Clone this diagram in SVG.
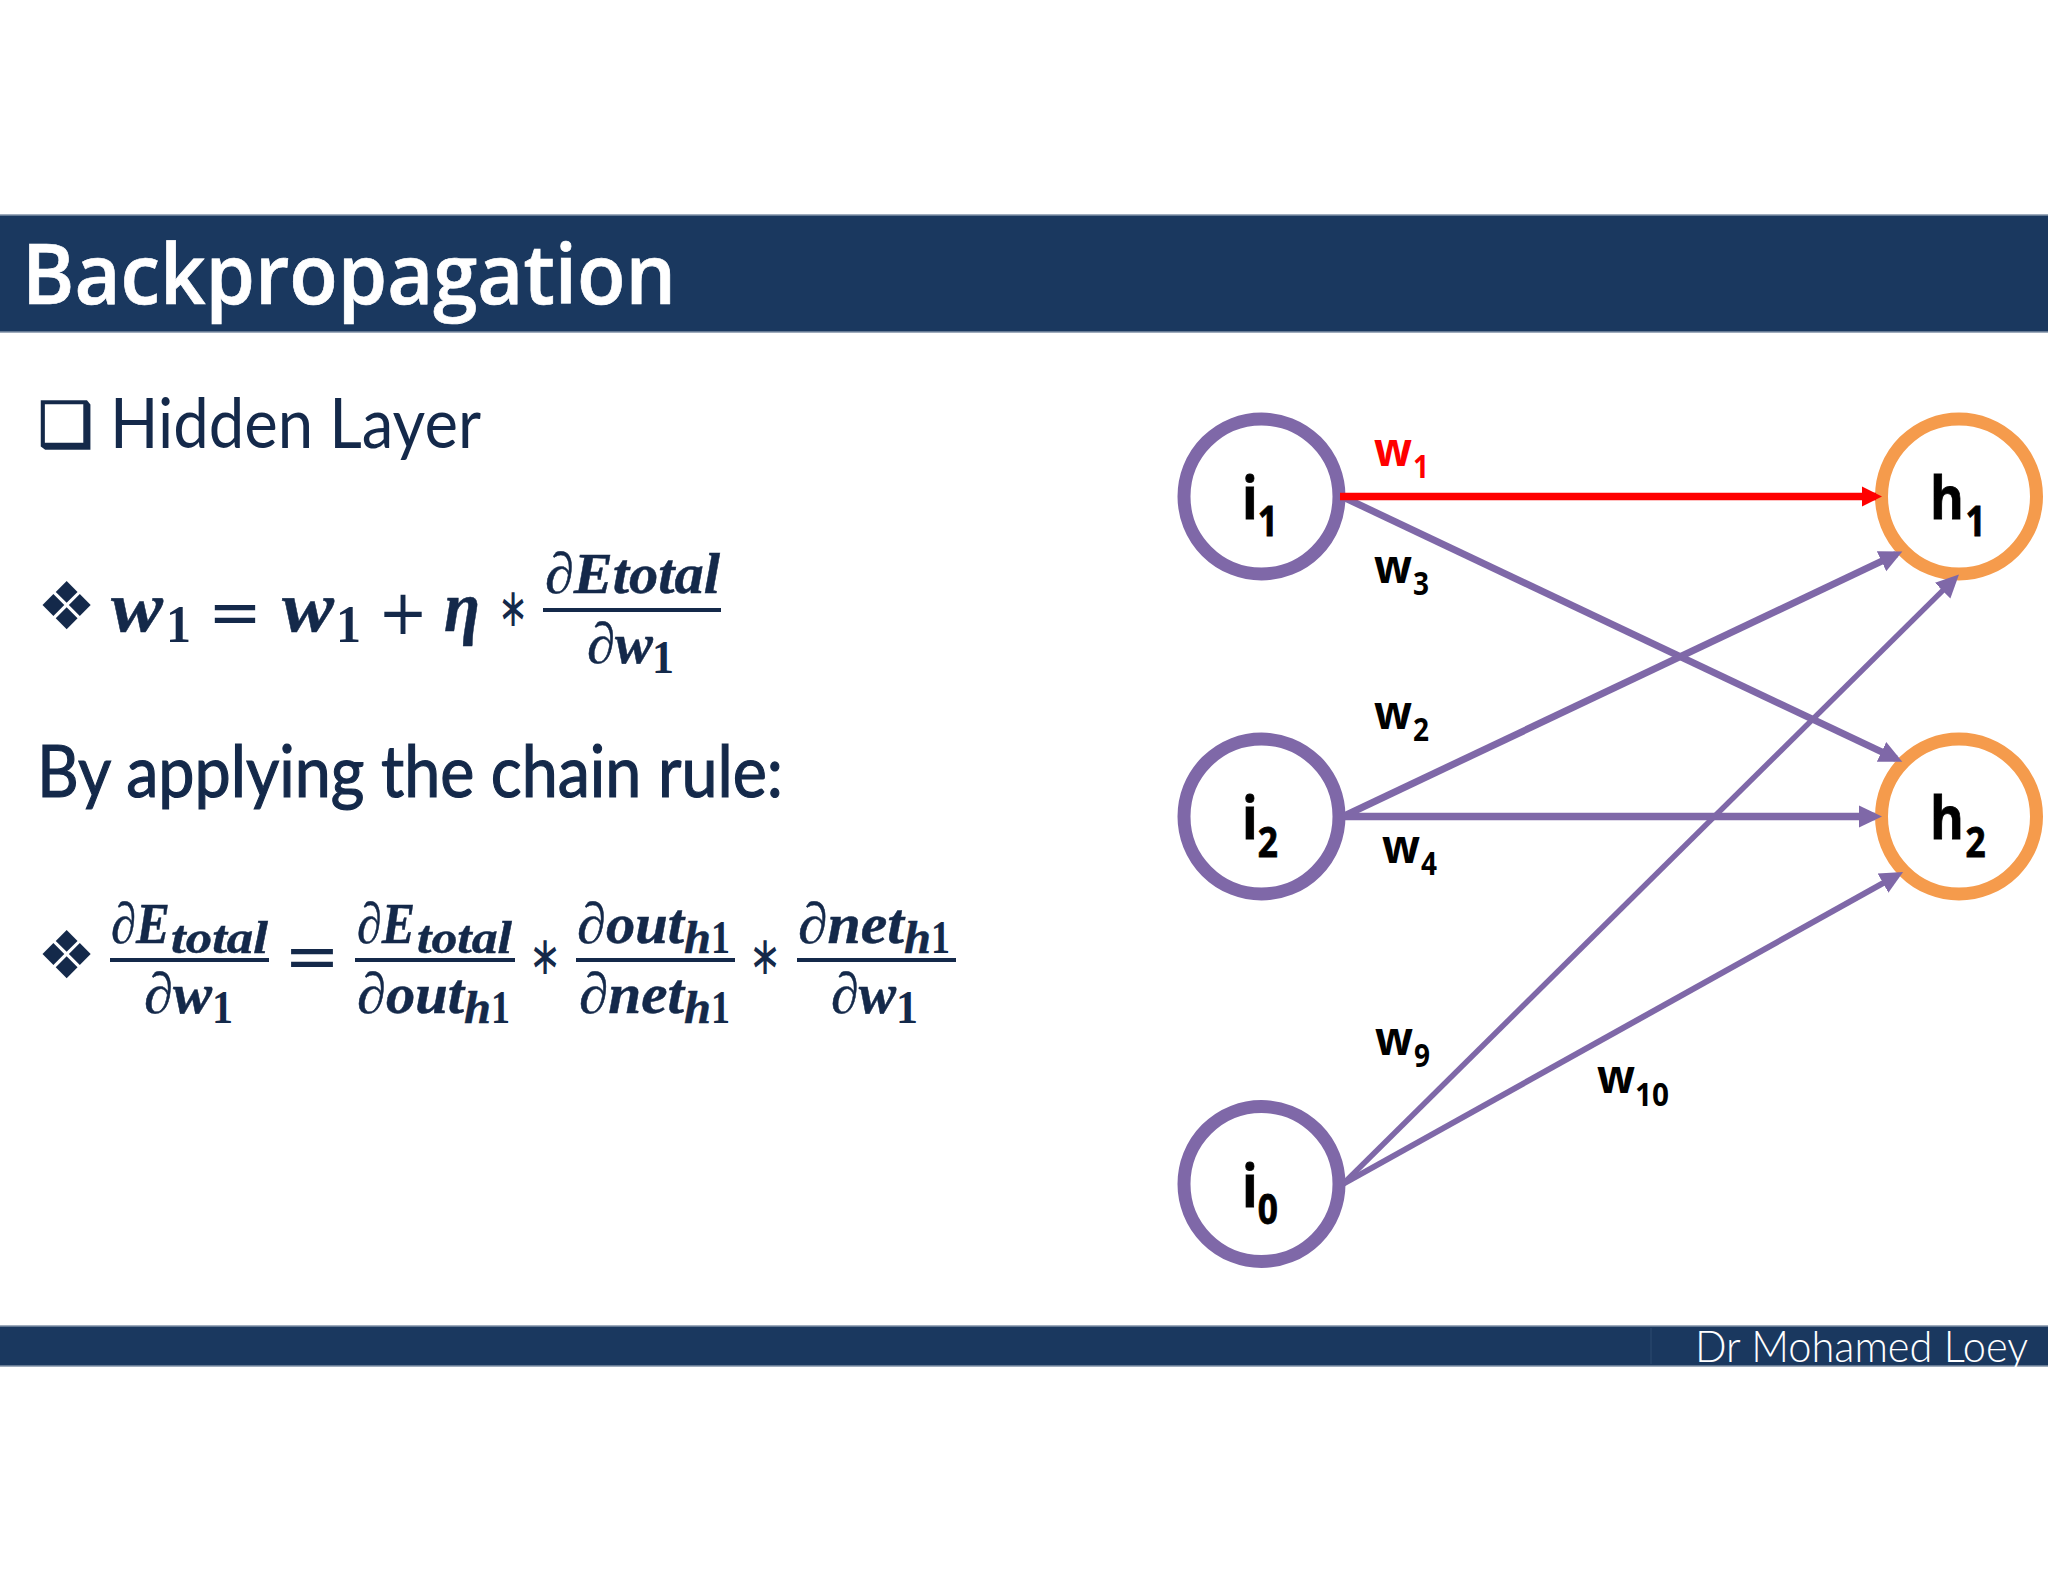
<svg xmlns="http://www.w3.org/2000/svg" width="2048" height="1582" viewBox="0 0 2048 1582">
<style>
.bar{fill:#1a385f;stroke:#7f90a6;stroke-width:1.5}
.title{font-family:"Open Sans","Liberation Sans",sans-serif;font-size:84px;font-weight:600;fill:#fff;stroke:#fff;stroke-width:.7}
.foot{font-family:"Lato","Liberation Sans",sans-serif;font-size:43px;font-weight:300;fill:#fff}
.head{font-family:"Lato","Liberation Sans",sans-serif;fill:#14294a}
.chain{stroke:#14294a;stroke-width:1.2}
.bul{font-family:"DejaVu Sans",sans-serif;fill:#14294a}
.bx{stroke:#14294a;stroke-width:1.6}
.m{font-family:"Liberation Serif",serif;font-style:italic;font-weight:700;fill:#14294a;stroke:#14294a;stroke-width:.5}
.up{font-family:"Liberation Serif",serif;font-weight:700;fill:#14294a}
.op{font-family:"DejaVu Sans",sans-serif;fill:#14294a}
.rule{stroke:#14294a;stroke-width:4}
.m1{font-size:72px}.s1{font-size:52px}.m2{font-size:58px}.s2{font-size:47px}
.ni{fill:#fff;stroke:#7f68a8;stroke-width:13}
.nh{fill:#fff;stroke:#f59b4c;stroke-width:13}
.nl{font-family:"Open Sans","Liberation Sans",sans-serif;font-weight:700;fill:#000;font-size:60px;stroke:#000;stroke-width:.8}
.ns{font-size:41px}
.wl{font-family:"Open Sans","Liberation Sans",sans-serif;font-weight:700;fill:#000;font-size:46px}
.ws{font-family:"Open Sans","Liberation Sans",sans-serif;font-weight:700;fill:#000;font-size:32px}
.red{fill:#ff0000}
.c{stroke:#7f68a8;fill:none}
</style>
<defs>
<marker id="ap" markerUnits="userSpaceOnUse" markerWidth="26" markerHeight="24" refX="16" refY="12" orient="auto"><path d="M0 1L23 12L0 23Z" fill="#7f68a8"/></marker>
<marker id="ar" markerUnits="userSpaceOnUse" markerWidth="26" markerHeight="24" refX="14" refY="12" orient="auto"><path d="M0 2L20 12L0 22Z" fill="#ff0000"/></marker>
</defs>
<rect width="2048" height="1582" fill="#fff"/>
<g id="header"><rect class="bar" x="-2" y="215" width="2052" height="117"/>
<text class="title" x="22" y="304" textLength="654" lengthAdjust="spacingAndGlyphs">Backpropagation</text></g>
<g id="footer"><rect class="bar" x="-2" y="1326" width="2052" height="40"/>
<line x1="1651" y1="1328" x2="1651" y2="1364" stroke="#2d4a70" stroke-width="1"/>
<text class="foot" x="1695" y="1362" textLength="333" lengthAdjust="spacingAndGlyphs">Dr Mohamed Loey</text></g>
<g id="text-left">
<text class="bul bx" x="38" y="446" font-size="62">❑</text>
<text class="head" x="110" y="448" font-size="70" textLength="371" lengthAdjust="spacingAndGlyphs">Hidden Layer</text>
<text class="bul" x="37" y="629" font-size="66">❖</text>
<text class="m m1" x="111" y="631" textLength="52" lengthAdjust="spacingAndGlyphs">w</text>
<text class="up s1" x="166" y="642" textLength="25" lengthAdjust="spacingAndGlyphs">1</text>
<text class="op" x="208" y="634" font-size="62" textLength="54" lengthAdjust="spacingAndGlyphs">=</text>
<text class="m m1" x="282" y="631" textLength="52" lengthAdjust="spacingAndGlyphs">w</text>
<text class="up s1" x="336" y="642" textLength="25" lengthAdjust="spacingAndGlyphs">1</text>
<text class="op" x="378" y="634" font-size="62" textLength="50" lengthAdjust="spacingAndGlyphs">+</text>
<text class="m m1" x="444" y="631" textLength="36" lengthAdjust="spacingAndGlyphs">η</text>
<text class="op" x="498" y="626" font-size="54" textLength="30" lengthAdjust="spacingAndGlyphs">∗</text>
<line class="rule" x1="543" y1="610" x2="721" y2="610"/>
<text class="m m2" x="545" y="593" textLength="175" lengthAdjust="spacingAndGlyphs">∂Etotal</text>
<text class="m m2" x="587" y="663" textLength="66" lengthAdjust="spacingAndGlyphs">∂w</text>
<text class="up s2" x="652" y="673" textLength="22" lengthAdjust="spacingAndGlyphs">1</text>
<text class="head chain" x="37" y="797" font-size="72" textLength="746" lengthAdjust="spacingAndGlyphs">By applying the chain rule:</text>
<text class="bul" x="37" y="978" font-size="66">❖</text>
<line class="rule" x1="110" y1="960" x2="269" y2="960"/>
<text class="m m2" x="111" y="943" textLength="59" lengthAdjust="spacingAndGlyphs">∂E</text>
<text class="m s2" x="171" y="953" textLength="97" lengthAdjust="spacingAndGlyphs">total</text>
<text class="m m2" x="144" y="1013" textLength="68" lengthAdjust="spacingAndGlyphs">∂w</text>
<text class="up s2" x="212" y="1023" textLength="21" lengthAdjust="spacingAndGlyphs">1</text>
<text class="op" x="284" y="978" font-size="62" textLength="56" lengthAdjust="spacingAndGlyphs">=</text>
<line class="rule" x1="355" y1="960" x2="515" y2="960"/>
<text class="m m2" x="357" y="943" textLength="58" lengthAdjust="spacingAndGlyphs">∂E</text>
<text class="m s2" x="417" y="953" textLength="95" lengthAdjust="spacingAndGlyphs">total</text>
<text class="m m2" x="357" y="1013" textLength="107" lengthAdjust="spacingAndGlyphs">∂out</text>
<text class="m s2" x="464" y="1023" textLength="27" lengthAdjust="spacingAndGlyphs">h</text>
<text class="up s2" x="491" y="1023" textLength="19" lengthAdjust="spacingAndGlyphs">1</text>
<text class="op" x="529" y="974" font-size="54" textLength="32" lengthAdjust="spacingAndGlyphs">∗</text>
<line class="rule" x1="576" y1="960" x2="735" y2="960"/>
<text class="m m2" x="577" y="943" textLength="107" lengthAdjust="spacingAndGlyphs">∂out</text>
<text class="m s2" x="684" y="953" textLength="27" lengthAdjust="spacingAndGlyphs">h</text>
<text class="up s2" x="711" y="953" textLength="19" lengthAdjust="spacingAndGlyphs">1</text>
<text class="m m2" x="579" y="1013" textLength="105" lengthAdjust="spacingAndGlyphs">∂net</text>
<text class="m s2" x="684" y="1023" textLength="27" lengthAdjust="spacingAndGlyphs">h</text>
<text class="up s2" x="711" y="1023" textLength="19" lengthAdjust="spacingAndGlyphs">1</text>
<text class="op" x="749" y="974" font-size="54" textLength="32" lengthAdjust="spacingAndGlyphs">∗</text>
<line class="rule" x1="797" y1="960" x2="956" y2="960"/>
<text class="m m2" x="798" y="943" textLength="106" lengthAdjust="spacingAndGlyphs">∂net</text>
<text class="m s2" x="904" y="953" textLength="27" lengthAdjust="spacingAndGlyphs">h</text>
<text class="up s2" x="931" y="953" textLength="19" lengthAdjust="spacingAndGlyphs">1</text>
<text class="m m2" x="831" y="1013" textLength="65" lengthAdjust="spacingAndGlyphs">∂w</text>
<text class="up s2" x="896" y="1023" textLength="22" lengthAdjust="spacingAndGlyphs">1</text>
</g>
<g id="node-i1"><circle class="ni" cx="1261.5" cy="496.5" r="77.5"/><text class="nl" transform="translate(1242,519) scale(.86,1)">i<tspan class="ns" dy="17">1</tspan></text></g>
<g id="node-i2"><circle class="ni" cx="1261.5" cy="816.5" r="77.5"/><text class="nl" transform="translate(1242,839) scale(.86,1)">i<tspan class="ns" dy="17.5">2</tspan></text></g>
<g id="node-i0"><circle class="ni" cx="1261.5" cy="1184" r="77.5"/><text class="nl" transform="translate(1242,1207) scale(.86,1)">i<tspan class="ns" dy="17">0</tspan></text></g>
<g id="node-h1"><circle class="nh" cx="1959" cy="496.5" r="77.5"/><text class="nl" transform="translate(1930,519) scale(.86,1)">h<tspan class="ns" dx="2" dy="17">1</tspan></text></g>
<g id="node-h2"><circle class="nh" cx="1959" cy="816.5" r="77.5"/><text class="nl" transform="translate(1930,839) scale(.86,1)">h<tspan class="ns" dx="2" dy="17.5">2</tspan></text></g>
<g id="connectors">
<line class="c" x1="1343" y1="497" x2="1896" y2="758.7" stroke-width="7" marker-end="url(#ap)"/>
<line class="c" x1="1343" y1="816.5" x2="1896" y2="554.4" stroke-width="7" marker-end="url(#ap)"/>
<line class="c" x1="1343" y1="816.5" x2="1875" y2="816.5" stroke-width="7.5" marker-end="url(#ap)"/>
<line class="c" x1="1343" y1="1184" x2="1954" y2="579.4" stroke-width="5.5" marker-end="url(#ap)"/>
<line class="c" x1="1343" y1="1184" x2="1897" y2="875.4" stroke-width="6" marker-end="url(#ap)"/>
<line x1="1340" y1="496.5" x2="1876" y2="496.5" stroke="#ff0000" stroke-width="7.5" marker-end="url(#ar)"/>
</g>
<g id="labels">
<text class="wl red" x="1374" y="466" textLength="38" lengthAdjust="spacingAndGlyphs">w</text><text class="ws red" x="1413" y="478" textLength="16" lengthAdjust="spacingAndGlyphs">1</text>
<text class="wl" x="1374" y="583" textLength="38" lengthAdjust="spacingAndGlyphs">w</text><text class="ws" x="1413" y="595" textLength="16" lengthAdjust="spacingAndGlyphs">3</text>
<text class="wl" x="1374" y="729" textLength="38" lengthAdjust="spacingAndGlyphs">w</text><text class="ws" x="1413" y="741" textLength="16" lengthAdjust="spacingAndGlyphs">2</text>
<text class="wl" x="1382" y="863" textLength="38" lengthAdjust="spacingAndGlyphs">w</text><text class="ws" x="1421" y="875" textLength="16" lengthAdjust="spacingAndGlyphs">4</text>
<text class="wl" x="1375" y="1055" textLength="38" lengthAdjust="spacingAndGlyphs">w</text><text class="ws" x="1414" y="1067" textLength="16" lengthAdjust="spacingAndGlyphs">9</text>
<text class="wl" x="1597" y="1093" textLength="38" lengthAdjust="spacingAndGlyphs">w</text><text class="ws" x="1635" y="1106" textLength="34" lengthAdjust="spacingAndGlyphs">10</text>
</g>
</svg>
